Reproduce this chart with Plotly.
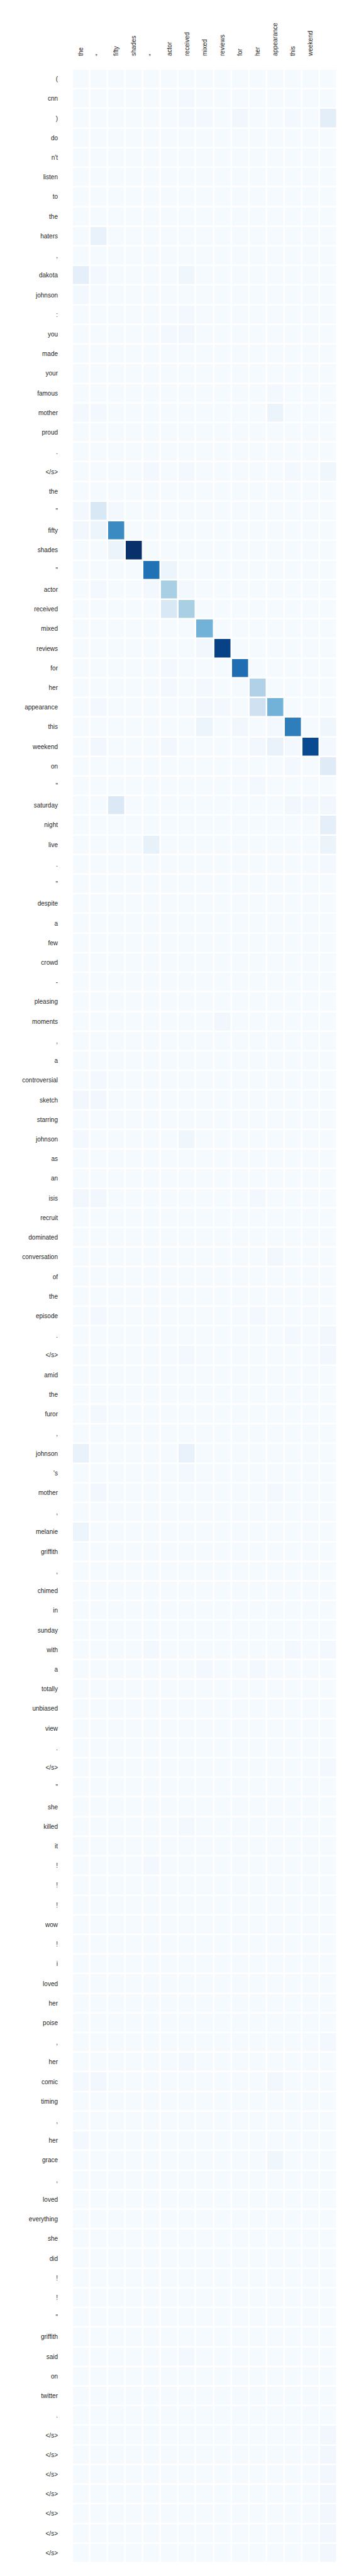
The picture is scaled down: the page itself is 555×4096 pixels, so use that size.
import plotly.graph_objects as go

# Column (source) tokens
x_labels = ["the", "\"", "fifty", "shades", "\"", "actor", "received", "mixed",
            "reviews", "for", "her", "appearance", "this", "weekend", ""]

# Row (target) tokens
y_labels = ["(", "cnn", ")", "do", "n't", "listen", "to", "the", "haters", ",",
            "dakota", "johnson", ":", "you", "made", "your", "famous", "mother", "proud", ".",
            "</s>", "the", "\"", "fifty", "shades", "\"", "actor", "received", "mixed", "reviews",
            "for", "her", "appearance", "this", "weekend", "on", "\"", "saturday", "night", "live",
            ".", "\"", "despite", "a", "few", "crowd", "-", "pleasing", "moments", ",",
            "a", "controversial", "sketch", "starring", "johnson", "as", "an", "isis", "recruit", "dominated",
            "conversation", "of", "the", "episode", ".", "</s>", "amid", "the", "furor", ",",
            "johnson", "'s", "mother", ",", "melanie", "griffith", ",", "chimed", "in", "sunday",
            "with", "a", "totally", "unbiased", "view", ".", "</s>", "\"", "she", "killed",
            "it", "!", "!", "!", "wow", "!", "i", "loved", "her", "poise",
            ",", "her", "comic", "timing", ",", "her", "grace", ",", "loved", "everything",
            "she", "did", "!", "!", "\"", "griffith", "said", "on", "twitter", ".",
            "</s>", "</s>", "</s>", "</s>", "</s>", "</s>", "</s>"]

# Attention weights (relative, 0-100), one list per row
attention = [
    [1, 1, 1, 1, 1, 1, 1, 1, 1, 1, 1, 1, 1, 1, 1],    # (
    [1, 1, 1, 1, 1, 1, 2, 1, 1, 1, 1, 1, 1, 1, 1],    # cnn
    [1, 1, 1, 1, 1, 1, 2, 2, 1, 3, 1, 1, 2, 1, 10],   # )
    [1, 1, 1, 1, 1, 1, 1, 1, 1, 1, 1, 1, 1, 1, 1],    # do
    [1, 1, 1, 1, 1, 1, 1, 1, 1, 1, 1, 1, 1, 1, 1],    # n't
    [1, 1, 1, 1, 1, 1, 1, 1, 1, 1, 1, 1, 1, 1, 1],    # listen
    [1, 1, 1, 1, 1, 1, 1, 1, 1, 1, 1, 1, 1, 1, 1],    # to
    [1, 1, 1, 1, 1, 1, 1, 1, 1, 1, 1, 1, 1, 1, 1],    # the
    [1, 7, 1, 1, 1, 1, 1, 1, 1, 1, 1, 1, 1, 1, 1],    # haters
    [1, 1, 1, 1, 1, 1, 1, 1, 1, 1, 1, 1, 1, 1, 1],    # ,
    [9, 2, 1, 1, 1, 1, 4, 1, 1, 1, 1, 1, 1, 1, 1],    # dakota
    [2, 1, 1, 1, 1, 1, 1, 1, 1, 1, 1, 1, 1, 1, 1],    # johnson
    [1, 1, 1, 1, 1, 1, 2, 1, 1, 1, 1, 1, 1, 1, 1],    # :
    [1, 1, 1, 1, 1, 2, 3, 1, 1, 1, 1, 1, 1, 1, 1],    # you
    [1, 1, 1, 1, 1, 1, 1, 1, 1, 1, 1, 1, 1, 1, 1],    # made
    [1, 1, 1, 1, 1, 1, 1, 1, 1, 1, 1, 1, 1, 1, 1],    # your
    [1, 1, 1, 1, 1, 1, 1, 1, 1, 1, 1, 2, 1, 1, 1],    # famous
    [2, 2, 1, 1, 1, 1, 1, 1, 1, 1, 1, 6, 1, 1, 1],    # mother
    [1, 1, 1, 1, 1, 1, 1, 1, 1, 1, 1, 1, 1, 1, 1],    # proud
    [1, 1, 1, 1, 1, 1, 1, 1, 1, 1, 1, 1, 1, 1, 1],    # .
    [1, 1, 1, 1, 2, 1, 2, 1, 1, 1, 1, 1, 2, 1, 4],    # </s>
    [1, 1, 1, 1, 1, 1, 1, 1, 1, 1, 1, 1, 1, 1, 1],    # the
    [2, 15, 2, 1, 1, 1, 1, 1, 1, 1, 1, 1, 1, 1, 1],   # "
    [3, 5, 65, 1, 1, 1, 1, 1, 1, 1, 1, 1, 1, 1, 1],   # fifty
    [1, 1, 6, 100, 1, 1, 1, 1, 1, 1, 1, 1, 1, 1, 1],  # shades
    [1, 1, 1, 1, 75, 5, 1, 1, 1, 1, 1, 1, 1, 1, 1],   # "
    [1, 2, 1, 1, 2, 34, 2, 1, 1, 1, 1, 1, 1, 1, 1],   # actor
    [1, 1, 1, 1, 1, 15, 34, 1, 1, 1, 1, 1, 1, 1, 1],  # received
    [1, 1, 1, 1, 1, 1, 1, 48, 1, 1, 1, 1, 1, 1, 1],   # mixed
    [1, 1, 1, 1, 1, 1, 1, 3, 93, 1, 1, 1, 1, 1, 1],   # reviews
    [1, 1, 1, 1, 1, 2, 1, 1, 1, 76, 1, 1, 1, 1, 1],   # for
    [1, 1, 1, 1, 1, 2, 1, 2, 1, 1, 32, 1, 1, 1, 1],   # her
    [1, 2, 1, 1, 1, 1, 1, 3, 2, 1, 20, 48, 1, 1, 1],  # appearance
    [1, 1, 1, 1, 1, 1, 1, 5, 1, 3, 1, 2, 70, 1, 4],   # this
    [1, 3, 1, 1, 1, 3, 1, 1, 1, 1, 3, 7, 2, 90, 2],   # weekend
    [1, 1, 1, 1, 1, 1, 1, 1, 1, 1, 1, 1, 2, 1, 12],   # on
    [1, 1, 1, 1, 1, 1, 1, 1, 1, 1, 2, 1, 1, 1, 1],    # "
    [1, 1, 14, 1, 1, 1, 1, 1, 1, 1, 1, 1, 3, 2, 3],   # saturday
    [1, 1, 1, 1, 1, 1, 1, 1, 1, 1, 1, 1, 1, 1, 9],    # night
    [1, 1, 1, 1, 8, 1, 1, 1, 1, 1, 1, 1, 1, 1, 6],    # live
    [1, 1, 1, 1, 1, 1, 1, 1, 1, 1, 1, 1, 1, 1, 2],    # .
    [1, 1, 1, 1, 1, 1, 1, 1, 1, 1, 1, 1, 1, 1, 1],    # "
    [1, 1, 1, 1, 1, 1, 1, 1, 1, 1, 1, 1, 1, 1, 1],    # despite
    [1, 1, 1, 1, 1, 1, 1, 1, 1, 1, 1, 1, 1, 1, 1],    # a
    [1, 1, 1, 1, 1, 1, 1, 1, 1, 1, 1, 1, 1, 1, 1],    # few
    [1, 1, 1, 1, 1, 1, 1, 1, 1, 1, 1, 1, 1, 1, 1],    # crowd
    [1, 1, 1, 1, 1, 1, 1, 1, 1, 1, 1, 1, 1, 1, 1],    # -
    [1, 1, 1, 1, 1, 1, 1, 1, 1, 1, 1, 1, 1, 1, 1],    # pleasing
    [1, 1, 1, 1, 1, 1, 1, 1, 3, 1, 1, 1, 1, 1, 1],    # moments
    [1, 1, 1, 1, 1, 1, 1, 1, 1, 1, 1, 1, 1, 1, 1],    # ,
    [1, 1, 1, 1, 1, 1, 1, 1, 1, 1, 1, 1, 1, 1, 1],    # a
    [1, 2, 1, 1, 1, 1, 1, 1, 1, 1, 1, 1, 1, 1, 1],    # controversial
    [3, 3, 1, 1, 1, 1, 1, 1, 1, 1, 1, 1, 1, 1, 1],    # sketch
    [1, 1, 1, 1, 1, 1, 1, 1, 1, 1, 1, 1, 1, 1, 1],    # starring
    [2, 1, 1, 1, 1, 1, 4, 1, 1, 1, 1, 1, 1, 1, 1],    # johnson
    [1, 1, 1, 1, 1, 1, 1, 1, 1, 1, 1, 1, 1, 1, 1],    # as
    [1, 1, 1, 1, 1, 1, 1, 1, 1, 1, 1, 1, 1, 1, 1],    # an
    [3, 3, 1, 1, 1, 1, 1, 1, 1, 1, 2, 1, 1, 1, 1],    # isis
    [1, 1, 1, 1, 1, 1, 1, 1, 1, 1, 1, 1, 1, 1, 1],    # recruit
    [1, 1, 1, 1, 1, 1, 1, 1, 1, 1, 1, 1, 1, 1, 1],    # dominated
    [1, 1, 1, 1, 1, 1, 1, 1, 1, 1, 1, 3, 1, 1, 1],    # conversation
    [1, 1, 1, 1, 1, 1, 1, 1, 1, 1, 1, 1, 1, 1, 1],    # of
    [1, 1, 1, 1, 1, 1, 1, 1, 1, 1, 1, 1, 1, 1, 1],    # the
    [1, 2, 1, 1, 1, 1, 1, 1, 1, 1, 2, 1, 1, 1, 1],    # episode
    [1, 1, 1, 1, 1, 1, 1, 1, 1, 1, 1, 1, 2, 1, 3],    # .
    [1, 1, 1, 1, 1, 1, 2, 1, 1, 1, 1, 1, 1, 1, 3],    # </s>
    [1, 1, 1, 1, 1, 1, 1, 1, 1, 1, 1, 1, 1, 1, 1],    # amid
    [1, 1, 1, 1, 1, 1, 1, 1, 1, 1, 1, 1, 1, 1, 1],    # the
    [1, 2, 1, 1, 1, 1, 1, 1, 1, 1, 1, 1, 1, 1, 1],    # furor
    [1, 1, 1, 1, 1, 1, 1, 1, 1, 1, 1, 1, 1, 1, 1],    # ,
    [7, 1, 1, 1, 1, 1, 7, 1, 1, 1, 1, 1, 1, 1, 1],    # johnson
    [1, 1, 1, 1, 1, 1, 2, 1, 1, 1, 1, 1, 1, 1, 1],    # 's
    [1, 3, 1, 1, 1, 1, 1, 1, 1, 1, 1, 2, 1, 1, 1],    # mother
    [1, 1, 1, 1, 1, 1, 1, 1, 1, 1, 1, 1, 1, 1, 1],    # ,
    [5, 1, 1, 1, 1, 1, 1, 1, 1, 1, 1, 1, 1, 1, 1],    # melanie
    [1, 1, 1, 1, 1, 1, 1, 1, 1, 1, 1, 1, 1, 1, 1],    # griffith
    [1, 1, 1, 1, 1, 1, 1, 1, 1, 1, 1, 1, 1, 1, 1],    # ,
    [1, 1, 1, 1, 1, 1, 1, 1, 1, 1, 1, 1, 1, 1, 1],    # chimed
    [1, 1, 1, 1, 1, 1, 1, 1, 1, 1, 1, 1, 1, 1, 1],    # in
    [1, 1, 1, 1, 1, 1, 1, 1, 1, 1, 1, 1, 1, 1, 1],    # sunday
    [1, 1, 1, 1, 2, 1, 1, 1, 1, 1, 1, 1, 2, 1, 2],    # with
    [1, 1, 1, 1, 1, 1, 1, 2, 1, 1, 2, 1, 1, 1, 1],    # a
    [1, 1, 1, 1, 1, 1, 1, 1, 1, 1, 1, 1, 1, 1, 1],    # totally
    [1, 1, 1, 1, 1, 1, 1, 1, 1, 1, 1, 1, 1, 1, 1],    # unbiased
    [1, 1, 1, 1, 1, 1, 1, 1, 1, 1, 1, 1, 1, 1, 1],    # view
    [1, 1, 1, 1, 1, 1, 1, 1, 1, 1, 1, 1, 1, 1, 1],    # .
    [1, 1, 1, 1, 1, 1, 1, 1, 1, 1, 1, 1, 1, 1, 2],    # </s>
    [1, 1, 1, 1, 1, 1, 1, 1, 1, 1, 1, 1, 1, 1, 1],    # "
    [1, 1, 1, 1, 1, 1, 1, 1, 1, 1, 1, 1, 1, 1, 1],    # she
    [1, 1, 1, 1, 1, 1, 2, 1, 1, 1, 1, 1, 1, 1, 1],    # killed
    [1, 1, 1, 1, 1, 1, 1, 1, 1, 1, 1, 1, 1, 1, 1],    # it
    [1, 1, 1, 1, 2, 1, 1, 1, 1, 1, 1, 1, 1, 1, 1],    # !
    [1, 1, 1, 1, 1, 1, 1, 1, 1, 1, 1, 1, 1, 1, 1],    # !
    [1, 1, 1, 1, 1, 1, 1, 1, 1, 1, 1, 1, 1, 1, 1],    # !
    [1, 1, 1, 1, 1, 1, 1, 1, 1, 1, 1, 1, 1, 1, 1],    # wow
    [1, 1, 1, 1, 1, 1, 1, 1, 1, 1, 1, 1, 1, 1, 1],    # !
    [1, 1, 1, 1, 1, 1, 1, 1, 1, 1, 1, 1, 1, 1, 1],    # i
    [1, 1, 1, 1, 1, 1, 1, 1, 1, 1, 1, 1, 1, 1, 1],    # loved
    [1, 1, 1, 1, 1, 1, 1, 1, 1, 1, 1, 1, 1, 1, 1],    # her
    [1, 1, 1, 1, 1, 1, 1, 1, 1, 1, 1, 1, 1, 1, 1],    # poise
    [1, 1, 1, 1, 1, 1, 1, 1, 1, 1, 1, 1, 1, 1, 2],    # ,
    [1, 1, 1, 1, 1, 1, 2, 1, 1, 1, 1, 1, 1, 1, 1],    # her
    [2, 3, 1, 1, 1, 1, 1, 1, 1, 1, 1, 3, 1, 1, 1],    # comic
    [1, 1, 1, 1, 1, 1, 1, 1, 1, 1, 1, 1, 1, 1, 1],    # timing
    [1, 1, 1, 1, 1, 1, 1, 1, 1, 1, 1, 1, 1, 1, 1],    # ,
    [2, 1, 1, 1, 1, 1, 1, 1, 1, 1, 1, 1, 1, 1, 1],    # her
    [1, 1, 1, 1, 1, 1, 1, 1, 1, 1, 1, 4, 1, 1, 1],    # grace
    [1, 1, 1, 1, 1, 1, 1, 1, 1, 1, 1, 1, 1, 1, 1],    # ,
    [1, 1, 1, 1, 1, 1, 1, 1, 1, 1, 1, 1, 1, 1, 1],    # loved
    [1, 1, 1, 1, 1, 1, 1, 1, 1, 1, 1, 1, 1, 1, 1],    # everything
    [1, 1, 1, 1, 1, 1, 1, 1, 1, 1, 1, 1, 1, 1, 1],    # she
    [1, 1, 1, 1, 1, 1, 1, 1, 1, 1, 1, 1, 1, 1, 1],    # did
    [1, 1, 1, 1, 1, 1, 1, 1, 1, 1, 1, 1, 1, 1, 1],    # !
    [1, 1, 1, 1, 1, 1, 1, 1, 1, 1, 1, 1, 1, 1, 1],    # !
    [1, 1, 1, 1, 1, 1, 1, 1, 1, 1, 1, 1, 1, 1, 1],    # "
    [1, 1, 1, 1, 1, 1, 1, 1, 1, 1, 1, 1, 1, 1, 1],    # griffith
    [1, 1, 1, 1, 1, 1, 2, 1, 1, 1, 1, 1, 1, 1, 1],    # said
    [1, 1, 1, 1, 1, 1, 1, 1, 1, 1, 1, 1, 1, 1, 1],    # on
    [1, 1, 1, 1, 1, 1, 1, 1, 1, 1, 1, 1, 1, 1, 1],    # twitter
    [1, 1, 1, 1, 1, 1, 1, 1, 1, 1, 1, 1, 1, 1, 1],    # .
    [1, 1, 1, 1, 1, 1, 1, 1, 1, 1, 1, 1, 1, 1, 3],    # </s>
    [1, 1, 1, 1, 1, 1, 1, 1, 1, 1, 1, 1, 1, 1, 3],    # </s>
    [1, 1, 1, 1, 1, 1, 1, 1, 1, 1, 1, 1, 1, 1, 3],    # </s>
    [1, 1, 1, 1, 1, 1, 1, 1, 1, 1, 1, 1, 1, 1, 3],    # </s>
    [1, 1, 1, 1, 1, 1, 1, 1, 1, 1, 1, 1, 1, 1, 3],    # </s>
    [1, 1, 1, 1, 1, 1, 1, 1, 1, 1, 1, 1, 1, 1, 3],    # </s>
    [1, 1, 1, 1, 1, 1, 1, 1, 1, 1, 1, 1, 1, 1, 3],    # </s>
]

blues = [
    [0.0, "rgb(247,251,255)"], [0.125, "rgb(222,235,247)"], [0.25, "rgb(198,219,239)"],
    [0.375, "rgb(158,202,225)"], [0.5, "rgb(107,174,214)"], [0.625, "rgb(66,146,198)"],
    [0.75, "rgb(33,113,181)"], [0.875, "rgb(8,81,156)"], [1.0, "rgb(8,48,107)"],
]


def esc(s):
    return s.replace("&", "&amp;").replace("<", "&lt;").replace(">", "&gt;")


x_idx = list(range(len(x_labels)))
y_idx = list(range(len(y_labels)))

fig = go.Figure(go.Heatmap(
    z=attention, x=x_idx, y=y_idx,
    colorscale=blues, zmin=0, zmax=100,
    xgap=2.5, ygap=2.5, showscale=False,
))

font = dict(family="Liberation Sans, Arial, sans-serif", size=10, color="#262626")

fig.update_layout(
    width=555, height=4096,
    margin=dict(l=107, r=27, t=102, b=29),
    paper_bgcolor="white", plot_bgcolor="white",
    font=font,
)
fig.update_xaxes(
    side="top", tickmode="array", tickvals=x_idx, ticktext=[esc(s) for s in x_labels],
    tickangle=-90, range=[-0.5, len(x_labels) - 0.5],
    showgrid=False, zeroline=False, showline=False, ticks="",
    ticklabelstandoff=20, tickfont=font, automargin=False,
)
fig.update_yaxes(
    tickmode="array", tickvals=y_idx, ticktext=[esc(s) for s in y_labels],
    range=[len(y_labels) - 0.5, -0.5],
    showgrid=False, zeroline=False, showline=False, ticks="",
    ticklabelstandoff=22, tickfont=font, automargin=False,
)

fig.write_html("out.html")
